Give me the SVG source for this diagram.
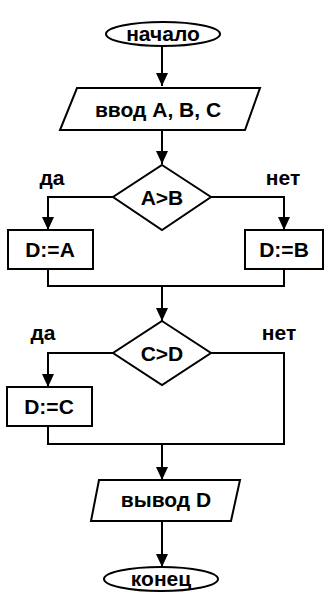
<svg xmlns="http://www.w3.org/2000/svg" width="326" height="592" viewBox="0 0 326 592">
<style>
.s{fill:#fff;stroke:#000;stroke-width:2}
.t{font-family:"Liberation Sans",Arial,sans-serif;font-weight:bold;font-size:21px;fill:#000;text-anchor:middle}
.c{fill:none;stroke:#000;stroke-width:2}
</style>
<defs>
<marker id="a" markerWidth="13" markerHeight="12" refX="13" refY="6" orient="auto" markerUnits="userSpaceOnUse" viewBox="0 0 13 12">
<path d="M0,0 L13,6 L0,12 Z" fill="#000"/>
</marker>
</defs>
<rect width="326" height="592" fill="#fff"/>
<g id="connectors">
<path class="c" d="M162,46 V86" marker-end="url(#a)"/>
<path class="c" d="M162,130 V164" marker-end="url(#a)"/>
<path class="c" d="M113,197 H48 V230" marker-end="url(#a)"/>
<path class="c" d="M211,197 H284 V230" marker-end="url(#a)"/>
<path class="c" d="M48,269 V286 H284 V269"/>
<path class="c" d="M162,286 V321" marker-end="url(#a)"/>
<path class="c" d="M113,353 H48 V387" marker-end="url(#a)"/>
<path class="c" d="M211,353 H284 V444 H48 V426"/>
<path class="c" d="M162,444 V480" marker-end="url(#a)"/>
<path class="c" d="M162,521 V567" marker-end="url(#a)"/>
<text class="t" x="52" y="185">да</text>
<text class="t" x="283" y="185">нет</text>
<text class="t" x="43" y="340">да</text>
<text class="t" x="279" y="340">нет</text>
</g>
<g id="start">
<ellipse class="s" cx="163" cy="34" rx="57" ry="12"/>
<text class="t" x="163" y="41">начало</text>
</g>
<g id="input">
<path class="s" d="M77,88 H260 L245,130 H60 Z"/>
<text class="t" x="158" y="117">ввод A, B, C</text>
</g>
<g id="cond1">
<path class="s" d="M162,165 L211,197 L162,230 L113,197 Z"/>
<text class="t" x="162" y="205">A&gt;B</text>
</g>
<g id="da">
<rect class="s" x="8" y="230" width="85" height="39"/>
<text class="t" x="50" y="257">D:=A</text>
</g>
<g id="db">
<rect class="s" x="245" y="230" width="78" height="39"/>
<text class="t" x="284" y="257">D:=B</text>
</g>
<g id="cond2">
<path class="s" d="M162,321 L211,353 L162,385 L113,353 Z"/>
<text class="t" x="162" y="361">C&gt;D</text>
</g>
<g id="dc">
<rect class="s" x="7" y="387" width="85" height="39"/>
<text class="t" x="49" y="414">D:=C</text>
</g>
<g id="output">
<path class="s" d="M99,480 H240 L231,521 H91 Z"/>
<text class="t" x="166" y="507">вывод D</text>
</g>
<g id="end">
<ellipse class="s" cx="161" cy="579" rx="57" ry="12"/>
<text class="t" x="161" y="586">конец</text>
</g>
</svg>
